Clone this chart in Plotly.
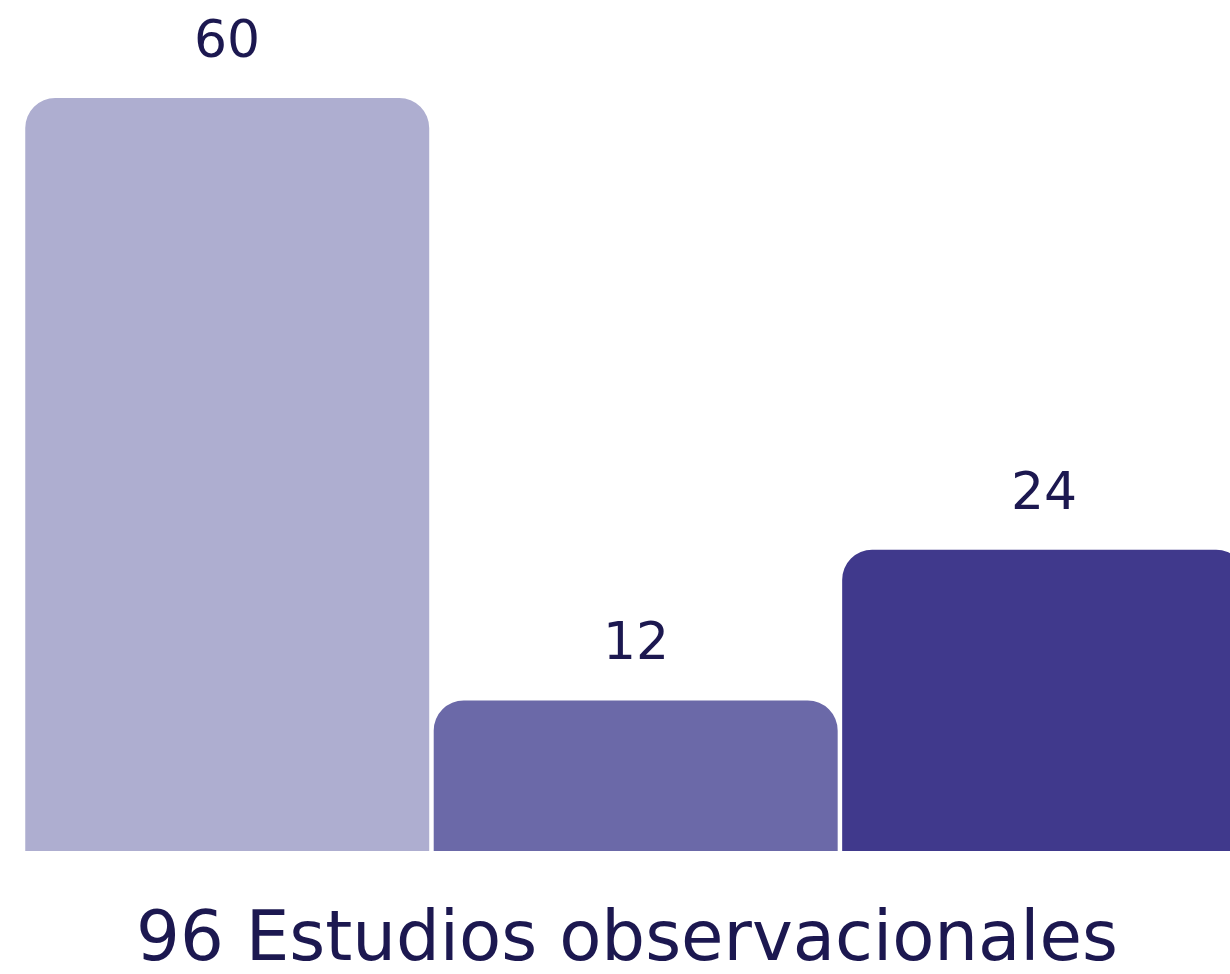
import plotly.graph_objects as go

# Study counts by group
categories = ["A", "B", "C"]
values = [60, 12, 24]
bar_colors = ["#aeaed0", "#6b69a8", "#40398c"]
total_label = "96 Estudios observacionales"

text_color = "#1c1850"

fig = go.Figure(
    go.Bar(
        x=categories,
        y=values,
        marker=dict(color=bar_colors, line=dict(width=0)),
        hoverinfo="skip",
    )
)

# value labels above each bar
for cat, val in zip(categories, values):
    fig.add_annotation(
        x=cat, y=val, text=str(val), showarrow=False,
        xref="x", yref="y", yanchor="bottom", yshift=27,
        font=dict(family="DejaVu Sans", size=52, color=text_color),
    )

fig.add_annotation(
    x=0.5, y=-0.102, xref="paper", yref="paper",
    text=total_label, showarrow=False, yanchor="middle",
    font=dict(family="DejaVu Sans", size=69, color=text_color),
)

fig.update_layout(
    width=1230, height=974,
    margin=dict(l=23, r=0, t=20, b=123),
    paper_bgcolor="white", plot_bgcolor="white",
    bargap=0.011,
    barcornerradius=30,
    showlegend=False,
    xaxis=dict(visible=False, range=[-0.5, 2.455]),
    yaxis=dict(visible=False, range=[0, 66.22]),
)

fig.write_html("out.html")
